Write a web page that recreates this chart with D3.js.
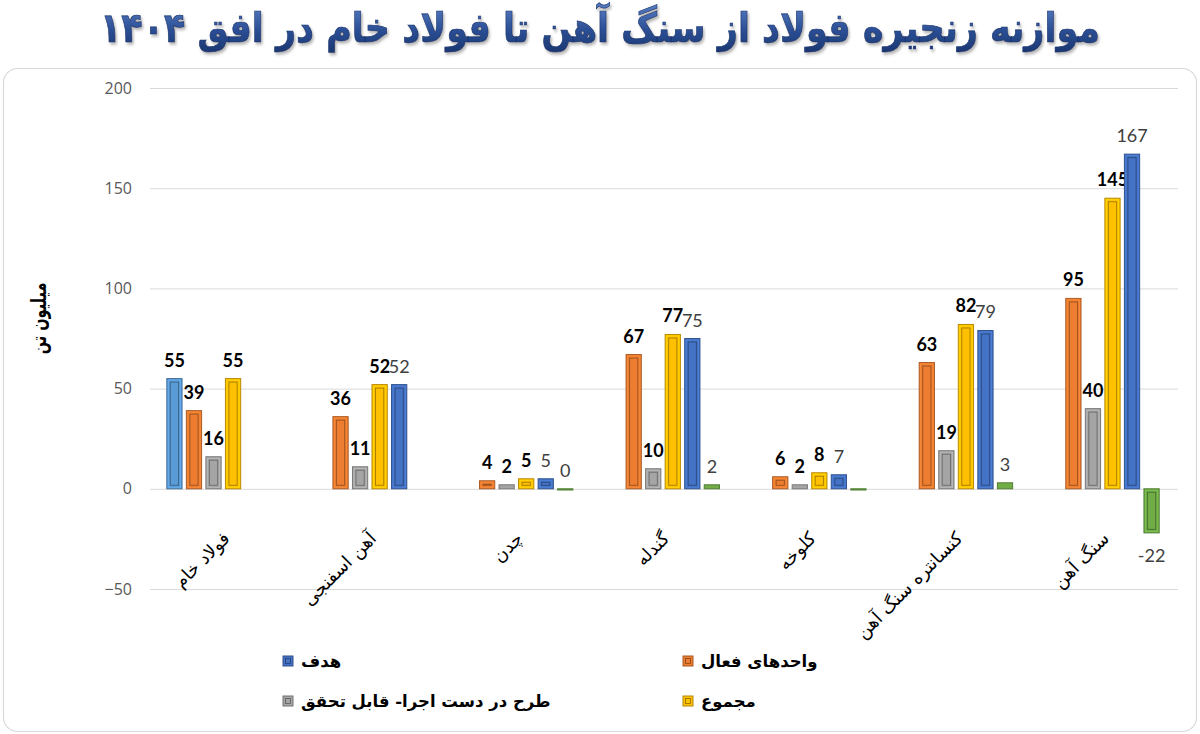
<!DOCTYPE html>
<html>
<head>
<meta charset="utf-8">
<script src="https://cdn.jsdelivr.net/npm/d3@7"></script>
<style>
  html, body { margin: 0; padding: 0; background: #fff; }
  svg { display: block; }
</style>
</head>
<body>
<div id="container"></div>
<script>
/* CONSTANTS AND GLOBALS */
const width = 1200,
  height = 734,
  margin = { top: 88, bottom: 145, left: 150, right: 24 };

// DATA (millions of tonnes)
const categories = ["فولاد خام", "آهن اسفنجی", "چدن", "گندله", "کلوخه", "کنسانتره سنگ آهن", "سنگ آهن"];
const steelTarget = [55, null, null, null, null, null, null];   // light blue, no legend entry
const activeUnits = [39, 36, 4, 67, 6, 63, 95];                  // واحدهای فعال
const inProgress = [16, 11, 2, 10, 2, 19, 40];                   // طرح در دست اجرا- قابل تحقق
const total = [55, 52, 5, 77, 8, 82, 145];                       // مجموع
const target = [null, 52, 5, 75, 7, 79, 167];                    // هدف
const balance = [null, null, 0, 2, 0, 3, -22];                   // green, no legend entry
const balanceLabelShown = [false, false, true, true, false, true, true];

const yTicks = [-50, 0, 50, 100, 150, 200];

const seriesKeys = ["steelTarget", "activeUnits", "inProgress", "total", "target", "balance"];
const seriesValues = { steelTarget, activeUnits, inProgress, total, target, balance };
const seriesColor = {
  steelTarget: "#5b9bd5",
  activeUnits: "#ed7d31",
  inProgress: "#a5a5a5",
  total: "#ffc000",
  target: "#4472c4",
  balance: "#70ad47"
};
const boldLabel = { steelTarget: true, activeUnits: true, inProgress: true, total: true, target: false, balance: false };

const legendItems = [
  { key: "target", name: "هدف" },
  { key: "activeUnits", name: "واحدهای فعال" },
  { key: "inProgress", name: "طرح در دست اجرا- قابل تحقق" },
  { key: "total", name: "مجموع" }
];

const persianFont = "'DejaVu Sans', sans-serif";

// flatten for drawing
const barData = [];
categories.forEach((c, i) => {
  seriesKeys.forEach(k => {
    const v = seriesValues[k][i];
    if (v === null) return;
    const showLabel = k === "balance" ? balanceLabelShown[i] : true;
    barData.push({ category: c, key: k, value: v, showLabel });
  });
});

// CREATE SVG
const svg = d3.select("#container")
  .append("svg")
  .attr("width", width)
  .attr("height", height);

const defs = svg.append("defs");
const grad = defs.append("linearGradient")
  .attr("id", "titleGrad")
  .attr("x1", 0).attr("y1", 0).attr("x2", 0).attr("y2", 1);
grad.append("stop").attr("offset", "0%").attr("stop-color", "#5a80c6");
grad.append("stop").attr("offset", "55%").attr("stop-color", "#2b4f95");
grad.append("stop").attr("offset", "100%").attr("stop-color", "#1a3670");

const shadow = defs.append("filter").attr("id", "titleShadow")
  .attr("x", "-5%").attr("y", "-20%").attr("width", "110%").attr("height", "150%");
shadow.append("feDropShadow")
  .attr("dx", 1.5).attr("dy", 2).attr("stdDeviation", 1.2)
  .attr("flood-color", "#7f7f7f").attr("flood-opacity", 0.6);

// CARD
svg.append("rect")
  .attr("x", 3.5).attr("y", 68.5)
  .attr("width", 1193).attr("height", 663)
  .attr("rx", 14)
  .attr("fill", "#fff")
  .attr("stroke", "#d9d9d9")
  .attr("stroke-width", 1.2);

// TITLE (fit to width, stretched a bit taller like the original heavy font)
const title = svg.append("text")
  .attr("transform", `translate(${width / 2}, 42) scale(1, 1.18)`)
  .attr("text-anchor", "middle")
  .attr("direction", "rtl")
  .attr("font-family", persianFont)
  .attr("font-weight", "bold")
  .attr("font-size", 36)
  .attr("fill", "url(#titleGrad)")
  .attr("stroke", "#1a3670")
  .attr("stroke-width", 0.6)
  .attr("filter", "url(#titleShadow)")
  .text("موازنه زنجیره فولاد از سنگ آهن تا فولاد خام در افق ۱۴۰۴");
const tw = title.node().getComputedTextLength();
title.attr("font-size", 36 * 1000 / tw);

// CREATE SCALES
const x0 = d3.scaleBand()
  .domain(categories)
  .range([margin.left, width - margin.right])
  .paddingInner(0.2)
  .paddingOuter(0.1);

const x1 = d3.scaleBand()
  .domain(seriesKeys)
  .range([0, x0.bandwidth()])
  .paddingInner(0.22)
  .paddingOuter(0.11);

const y = d3.scaleLinear()
  .domain([-50, 200])
  .range([height - margin.bottom, margin.top]);

// GRID + Y AXIS
const yAxis = svg.append("g")
  .attr("transform", `translate(${margin.left},0)`)
  .call(d3.axisLeft(y)
    .tickValues(yTicks)
    .tickSize(-(1178 - margin.left))
    .tickPadding(18));
yAxis.select(".domain").remove();
yAxis.selectAll(".tick line")
  .attr("stroke", "#d9d9d9")
  .attr("stroke-width", 1);
yAxis.selectAll(".tick text")
  .attr("fill", "#595959")
  .attr("font-family", "'Open Sans', sans-serif")
  .attr("font-size", 16);

// Y AXIS TITLE
svg.append("text")
  .attr("transform", `translate(46, ${y(85)}) rotate(-90) scale(1, 1.45)`)
  .attr("text-anchor", "middle")
  .attr("font-family", persianFont)
  .attr("font-weight", "bold")
  .attr("font-size", 14.5)
  .attr("fill", "#000")
  .text("میلیون تن");

// DRAW BARS (with a simple bevel look)
const bars = svg.selectAll(".bar")
  .data(barData)
  .join("g")
  .attr("class", "bar")
  .attr("transform", d => `translate(${x0(d.category) + x1(d.key)},0)`);

const bw = x1.bandwidth();

bars.append("rect")
  .attr("x", 0)
  .attr("y", d => y(Math.max(0, d.value)))
  .attr("width", bw)
  .attr("height", d => Math.max(1.2, Math.abs(y(d.value) - y(0))))
  .attr("fill", d => seriesColor[d.key])
  .attr("stroke", d => d3.color(seriesColor[d.key]).darker(0.9))
  .attr("stroke-width", 1);

bars.filter(d => Math.abs(y(d.value) - y(0)) > 7)
  .append("rect")
  .attr("x", 3.5)
  .attr("y", d => y(Math.max(0, d.value)) + 3.5)
  .attr("width", bw - 7)
  .attr("height", d => Math.abs(y(d.value) - y(0)) - 7)
  .attr("fill", "none")
  .attr("stroke", d => d3.color(seriesColor[d.key]).darker(1.6))
  .attr("stroke-opacity", 0.75)
  .attr("stroke-width", 1);

bars.filter(d => Math.abs(y(d.value) - y(0)) > 7)
  .append("rect")
  .attr("x", 1.5)
  .attr("y", d => y(Math.max(0, d.value)) + 1.5)
  .attr("width", bw - 3)
  .attr("height", d => Math.abs(y(d.value) - y(0)) - 3)
  .attr("fill", "none")
  .attr("stroke", d => d3.color(seriesColor[d.key]).brighter(0.5))
  .attr("stroke-opacity", 0.6)
  .attr("stroke-width", 1);

// DATA LABELS
bars.filter(d => d.showLabel)
  .append("text")
  .attr("x", bw / 2)
  .attr("y", d => d.value >= 0 ? y(d.value) - 12 : y(d.value) + 29)
  .attr("text-anchor", "middle")
  .attr("font-family", "Lato, 'Open Sans', sans-serif")
  .attr("font-size", 18)
  .attr("font-weight", d => boldLabel[d.key] ? "bold" : "normal")
  .attr("fill", d => boldLabel[d.key] ? "#000" : "#404040")
  .text(d => d.value);

// CATEGORY LABELS
svg.selectAll(".cat-label")
  .data(categories)
  .join("text")
  .attr("class", "cat-label")
  .attr("transform", d => `translate(${x0(d) + x0.bandwidth() / 2 - 2}, 530) rotate(-45)`)
  .attr("text-anchor", "end")
  .attr("dy", "0.75em")
  .attr("font-family", persianFont)
  .attr("font-size", 18)
  .attr("fill", "#000")
  .text(d => d);

// LEGEND
const legend = svg.selectAll(".legend-item")
  .data(legendItems)
  .join("g")
  .attr("class", "legend-item")
  .attr("transform", (d, i) => `translate(${283 + (i % 2) * 400}, ${661 + Math.floor(i / 2) * 40})`);

legend.append("rect")
  .attr("x", 0).attr("y", -5)
  .attr("width", 10).attr("height", 10)
  .attr("fill", d => seriesColor[d.key])
  .attr("stroke", d => d3.color(seriesColor[d.key]).darker(1))
  .attr("stroke-width", 1);

legend.append("rect")
  .attr("x", 2.5).attr("y", -2.5)
  .attr("width", 5).attr("height", 5)
  .attr("fill", "none")
  .attr("stroke", d => d3.color(seriesColor[d.key]).darker(1.6))
  .attr("stroke-width", 0.8);

legend.append("text")
  .attr("x", 18)
  .attr("y", 0)
  .attr("dy", "0.35em")
  .attr("font-family", persianFont)
  .attr("font-weight", "bold")
  .attr("font-size", 16.5)
  .attr("fill", "#000")
  .text(d => d.name);
</script>
</body>
</html>
